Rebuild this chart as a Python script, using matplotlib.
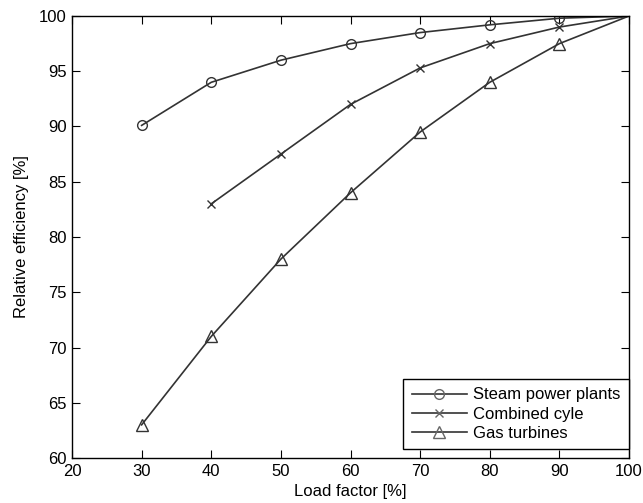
import matplotlib
matplotlib.use("Agg")
import matplotlib.pyplot as plt

plt.rcParams['font.family'] = ['Liberation Sans', 'DejaVu Sans']

steam_x = [30, 40, 50, 60, 70, 80, 90, 100]
steam_y = [90.1, 94.0, 96.0, 97.5, 98.5, 99.2, 99.8, 100]
cc_x = [40, 50, 60, 70, 80, 90, 100]
cc_y = [83.0, 87.5, 92.0, 95.3, 97.5, 99.0, 100]
gas_x = [30, 40, 50, 60, 70, 80, 90, 100]
gas_y = [63.0, 71.0, 78.0, 84.0, 89.5, 94.0, 97.5, 100]
labels = ['Steam power plants', 'Combined cyle', 'Gas turbines']
xticks = [20, 30, 40, 50, 60, 70, 80, 90, 100]
yticks = [60, 65, 70, 75, 80, 85, 90, 95, 100]

fig = plt.figure(figsize=(6.43, 5.03), dpi=100)
ax = fig.add_axes([72/643, 1-458/503, (629-72)/643, (458-16)/503])

col = '#333333'
ax.plot(steam_x, steam_y, color=col, lw=1.2, marker='o', ms=7, mfc='none', mec=col, mew=1.0,
        markevery=list(range(len(steam_x)-1)), label=labels[0])
ax.plot(cc_x, cc_y, color=col, lw=1.2, marker='x', ms=6, mec=col, mew=1.0,
        markevery=list(range(len(cc_x)-1)), label=labels[1])
ax.plot(gas_x, gas_y, color=col, lw=1.2, marker='^', ms=8, mfc='none', mec=col, mew=1.0,
        markevery=list(range(len(gas_x)-1)), label=labels[2])

ax.set_xlim(20, 100)
ax.set_ylim(60, 100)
ax.set_xticks(xticks)
ax.set_yticks(yticks)
ax.tick_params(direction='in', length=6, labelsize=12, top=True, right=True, colors='black', pad=4)
for s in ax.spines.values():
    s.set_linewidth(1.0)
ax.set_xlabel('Load factor [%]', fontsize=12, labelpad=4)
ax.set_ylabel('Relative efficiency [%]', fontsize=12, labelpad=7)

leg = ax.legend(loc='lower right', bbox_to_anchor=(1.0, 9/442), fontsize=12, frameon=True,
                fancybox=False, numpoints=1, edgecolor='black', framealpha=1,
                handlelength=3.3, handletextpad=0.4, borderpad=0.5, labelspacing=0.25,
                borderaxespad=0)
leg.get_frame().set_linewidth(1.0)
for h in leg.legend_handles:
    h.set_markevery([1])
    h.set_markeredgecolor('#666666')

fig.savefig('out.png', dpi=100)
